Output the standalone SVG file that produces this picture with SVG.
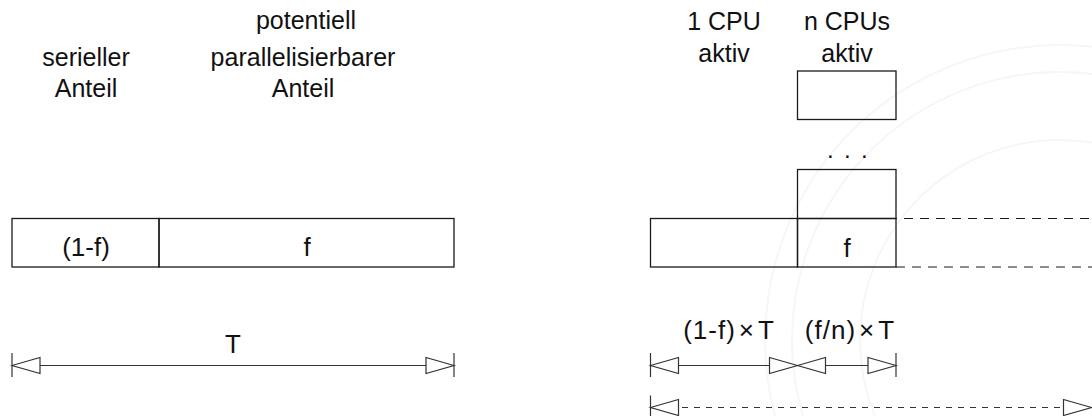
<svg xmlns="http://www.w3.org/2000/svg" width="1092" height="416" viewBox="0 0 1092 416">
  <style>
    .lbl { font-family: "Liberation Sans", Arial, sans-serif; font-size: 25px; fill: #111; text-anchor: middle; }
    .math { font-family: "Liberation Sans", Arial, sans-serif; font-size: 26px; fill: #111; text-anchor: middle; }
    .dots { font-family: "Liberation Sans", Arial, sans-serif; font-size: 24px; fill: #111; }
    .box { fill: none; stroke: #1a1a1a; stroke-width: 1.3; }
    .ln { fill: none; stroke: #333; stroke-width: 1.2; }
    .dash1 { fill: none; stroke: #1a1a1a; stroke-width: 1.2; stroke-dasharray: 9 7; }
    .dash2 { fill: none; stroke: #333; stroke-width: 1.2; stroke-dasharray: 6 6; }
    .head { fill: #fff; stroke: #333; stroke-width: 1.2; stroke-linejoin: miter; }
    .wm { fill: none; stroke: #f6f6f6; stroke-width: 2; }
  </style>
  <defs>
    <path id="hl" d="M0,0 L28,-8 L28,8 Z"/>
    <path id="hr" d="M0,0 L-28,-8 L-28,8 Z"/>
  </defs>
  <rect width="1092" height="416" fill="#fff"/>

  <g id="watermark">
    <circle class="wm" cx="1060" cy="340" r="295"/>
    <circle class="wm" cx="1060" cy="340" r="268"/>
    <circle class="wm" cx="1060" cy="340" r="200"/>
  </g>

  <g id="labels-left">
    <text class="lbl" x="86" y="66">serieller</text>
    <text class="lbl" x="86" y="97">Anteil</text>
    <text class="lbl" x="306" y="29">potentiell</text>
    <text class="lbl" x="303" y="66">parallelisierbarer</text>
    <text class="lbl" x="303" y="97">Anteil</text>
  </g>

  <g id="labels-right">
    <text class="lbl" x="724" y="30">1 CPU</text>
    <text class="lbl" x="724" y="62">aktiv</text>
    <text class="lbl" x="847" y="30">n CPUs</text>
    <text class="lbl" x="847" y="62">aktiv</text>
  </g>

  <g id="bar-serial">
    <rect class="box" x="12" y="218.5" width="147" height="48.5"/>
    <text class="math" x="86" y="255.5">(1-f)</text>
  </g>
  <g id="bar-parallel">
    <rect class="box" x="159" y="218.5" width="295" height="48.5"/>
    <text class="math" x="307" y="255.5">f</text>
  </g>

  <g id="bar2-serial">
    <rect class="box" x="650.5" y="218.5" width="147" height="48.5"/>
  </g>
  <g id="bar2-parallel">
    <rect class="box" x="797.5" y="218.5" width="98.5" height="48.5"/>
    <text class="math" x="847" y="257">f</text>
  </g>
  <g id="cpu-box-2">
    <rect class="box" x="797.5" y="169.5" width="98.5" height="49"/>
  </g>
  <g id="dots">
    <text class="dots" x="827 844 861" y="158">...</text>
  </g>
  <g id="cpu-box-n">
    <rect class="box" x="797.5" y="71" width="98.5" height="48.5"/>
  </g>

  <g id="connectors">
    <line class="dash1" x1="896" y1="218.5" x2="1092" y2="218.5" stroke-dashoffset="-8"/>
    <line class="dash1" x1="896" y1="267" x2="1092" y2="267"/>

    <line class="ln" x1="12" y1="353" x2="12" y2="377"/>
    <line class="ln" x1="454" y1="353" x2="454" y2="377"/>
    <line class="ln" x1="40" y1="365.5" x2="426" y2="365.5"/>
    <use href="#hl" class="head" x="12" y="365.5"/>
    <use href="#hr" class="head" x="454" y="365.5"/>
    <text class="math" x="233" y="352.5">T</text>

    <line class="ln" x1="650.5" y1="353" x2="650.5" y2="377"/>
    <line class="ln" x1="896" y1="353" x2="896" y2="377"/>
    <line class="ln" x1="678.5" y1="365.5" x2="769.5" y2="365.5"/>
    <use href="#hl" class="head" x="650.5" y="365.5"/>
    <use href="#hr" class="head" x="797.5" y="365.5"/>
    <line class="ln" x1="825.5" y1="365.5" x2="868" y2="365.5"/>
    <use href="#hl" class="head" x="797.5" y="365.5"/>
    <use href="#hr" class="head" x="896" y="365.5"/>
    <text class="math" x="729" y="339" style="letter-spacing:1px">(1-f)<tspan dx="3">×</tspan><tspan dx="3">T</tspan></text>
    <text class="math" x="850" y="339" style="letter-spacing:1px">(f/n)<tspan dx="3">×</tspan><tspan dx="3">T</tspan></text>

    <line class="ln" x1="650.5" y1="395.5" x2="650.5" y2="420"/>
    <line class="dash2" x1="682" y1="407.5" x2="1063" y2="407.5"/>
    <use href="#hl" class="head" x="650.5" y="407.5"/>
    <use href="#hr" class="head" x="1091.5" y="407.5"/>
  </g>
</svg>
